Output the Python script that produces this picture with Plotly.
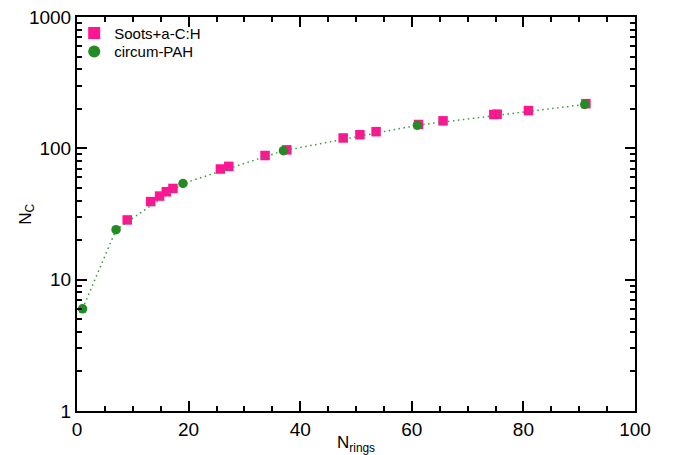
import plotly.graph_objects as go

# Data
circ_rings = [1, 7, 19, 37, 61, 91]
circ_nc = [6, 24, 54, 96, 150, 216]

soot_rings = [9, 13.2, 14.8, 16, 17.2, 25.7, 27.2, 33.7, 37.6, 47.7, 50.7, 53.6,
              61.2, 65.6, 74.7, 75.3, 80.9, 91.2]
soot_nc = [28.5, 39.3, 43.3, 46.7, 49.5, 69.6, 72.9, 88.2, 97.4, 120, 127, 134,
           152, 162, 181, 182, 194, 219]

x_ticks = [0, 20, 40, 60, 80, 100]
y_ticks = [1, 10, 100, 1000]

PINK = "#FF1493"
GREEN = "#228B22"
FONT = "Liberation Sans"

fig = go.Figure()
fig.add_trace(go.Scatter(x=soot_rings, y=soot_nc, mode="markers", name="Soots+a-C:H",
                         legend="legend",
                         marker=dict(symbol="square", size=9.5, color=PINK)))
fig.add_trace(go.Scatter(x=circ_rings, y=circ_nc, mode="lines", showlegend=False,
                         line=dict(color="#3C9A3C", dash="1.5px,3.5px", width=1.5)))
fig.add_trace(go.Scatter(x=circ_rings, y=circ_nc, mode="markers", name="circum-PAH",
                         legend="legend2",
                         marker=dict(symbol="circle", size=9.5, color=GREEN)))

minor_y = [m * 10 ** e for e in range(0, 3) for m in range(2, 10)]

leg_common = dict(xanchor="left", yanchor="middle", font=dict(size=15, family=FONT),
                  bgcolor="rgba(0,0,0,0)", itemsizing="constant")

fig.update_layout(
    width=676, height=455,
    margin=dict(l=69, r=49, t=9, b=52, autoexpand=False),
    paper_bgcolor="white", plot_bgcolor="white",
    font=dict(family=FONT, size=19, color="black"),
    showlegend=True,
    legend=dict(x=-0.005, y=0.959, **leg_common),
    legend2=dict(x=-0.005, y=0.912, **leg_common),
    xaxis=dict(range=[0, 100], tickvals=x_ticks, ticks="inside", ticklen=10,
               tickwidth=1.5, tickcolor="black", automargin=False,
               showline=True, linecolor="black", linewidth=2, mirror="allticks",
               showgrid=False, zeroline=False, ticklabeloverflow="allow",
               minor=dict(ticks="inside", ticklen=5, dtick=5, tickwidth=1.5,
                          tickcolor="black", showgrid=False)),
    yaxis=dict(type="log", range=[-0.0005, 3.0005], tickvals=y_ticks,
               ticktext=[str(v) for v in y_ticks], automargin=False,
               ticks="inside", ticklen=10, tickwidth=1.5, tickcolor="black",
               showline=True, linecolor="black", linewidth=2, mirror="allticks",
               showgrid=False, zeroline=False, ticklabeloverflow="allow",
               minor=dict(ticks="inside", ticklen=5, tickmode="array", tickvals=minor_y,
                          tickwidth=1.5, tickcolor="black", showgrid=False)),
    annotations=[
        dict(text="N<sub>rings</sub>", xref="paper", yref="paper", x=0.5, y=-0.085,
             xanchor="center", yanchor="middle", showarrow=False,
             font=dict(size=17, family=FONT)),
        dict(text="N<sub>C</sub>", xref="paper", yref="paper", x=-0.09, y=0.5,
             xanchor="center", yanchor="middle", showarrow=False, textangle=-90,
             font=dict(size=17, family=FONT)),
    ],
)

fig.write_html("out.html")
